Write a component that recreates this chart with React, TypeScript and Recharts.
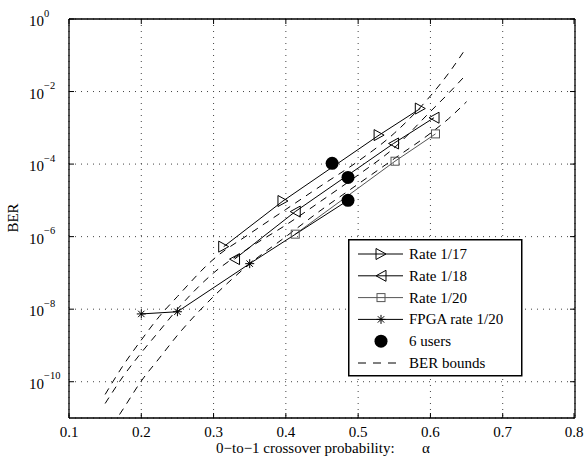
import React from "react";
import { CartesianGrid, ComposedChart, Legend, Line, XAxis, YAxis } from "recharts";

// axis ticks
const xTicks = [0.1, 0.2, 0.3, 0.4, 0.5, 0.6, 0.7, 0.8];
const yTickExps = [0, -2, -4, -6, -8, -10];
const yTicks = yTickExps.map((e) => 10 ** e);

// measured points
const rate17X = [0.314, 0.396, 0.529, 0.586];
const rate17Y = [5.3e-7, 9.6e-6, 6.3e-4, 3.4e-3];
const rate18X = [0.329, 0.413, 0.549, 0.605];
const rate18Y = [2.4e-7, 4.9e-6, 3.7e-4, 1.9e-3];
const rate20X = [0.413, 0.551, 0.607];
const rate20Y = [1.17e-6, 1.2e-4, 6.8e-4];
const fpgaX = [0.2, 0.25, 0.35, 0.486];
const fpgaY = [7.4e-9, 8.5e-9, 1.8e-7, 1.0e-5];
const usersX = [0.464, 0.486, 0.486];
const usersY = [1.05e-4, 4.3e-5, 1.0e-5];

// BER bounds (log10 of BER)
const berX = [0.15, 0.175, 0.2, 0.225, 0.25, 0.3, 0.35, 0.4, 0.45, 0.5, 0.55, 0.6, 0.625, 0.65];
const berALog = [-10.35, -9.55, -8.85, -8.2, -7.65, -6.62, -5.92, -5.25, -4.58, -3.92, -3.15, -2.12, -1.5, -0.78];
const berBLog = [-10.6, -9.85, -9.2, -8.6, -8.0, -7.0, -6.3, -5.68, -5.0, -4.3, -3.55, -2.55, -2.05, -1.52];
const berCLog = [-11.5, -10.75, -9.98, -9.35, -8.72, -7.65, -6.75, -6.0, -5.25, -4.55, -3.85, -3.15, -2.75, -2.28];

const toPts = (xs: number[], ys: number[]) => xs.map((x, i) => ({ x, y: ys[i] }));
const toLogPts = (xs: number[], ls: number[]) => xs.map((x, i) => ({ x, y: 10 ** ls[i] }));

const rate17 = toPts(rate17X, rate17Y);
const rate18 = toPts(rate18X, rate18Y);
const rate20 = toPts(rate20X, rate20Y);
const fpga = toPts(fpgaX, fpgaY);
const users = toPts(usersX, usersY);
const berA = toLogPts(berX, berALog);
const berB = toLogPts(berX, berBLog);
const berC = toLogPts(berX, berCLog);

const FONT = "'Liberation Serif', 'Times New Roman', serif";
const GRAY20 = "#555";

function Marker({ kind, cx, cy, color = "#000" }: { kind: string; cx: number; cy: number; color?: string }) {
  if (kind === "right")
    return <polygon points={`${cx - 5},${cy - 5.5} ${cx - 5},${cy + 5.5} ${cx + 5},${cy}`} fill="none" stroke={color} />;
  if (kind === "left")
    return <polygon points={`${cx + 5},${cy - 5.5} ${cx + 5},${cy + 5.5} ${cx - 5},${cy}`} fill="none" stroke={color} />;
  if (kind === "square")
    return <rect x={cx - 4} y={cy - 4} width={8} height={8} fill="none" stroke={color} />;
  if (kind === "star")
    return (
      <g stroke={color}>
        <line x1={cx - 4.5} x2={cx + 4.5} y1={cy} y2={cy} />
        <line x1={cx} x2={cx} y1={cy - 4.5} y2={cy + 4.5} />
        <line x1={cx - 3.2} x2={cx + 3.2} y1={cy - 3.2} y2={cy + 3.2} />
        <line x1={cx - 3.2} x2={cx + 3.2} y1={cy + 3.2} y2={cy - 3.2} />
      </g>
    );
  if (kind === "dot") return <circle cx={cx} cy={cy} r={6.5} fill="#000" />;
  return null;
}

const dotFn = (kind: string, color?: string) => (p: any) =>
  <Marker key={`${kind}-${p.index}`} kind={kind} cx={p.cx} cy={p.cy} color={color} />;

const XTickBottom = ({ x, y, payload }: any) => (
  <g>
    <line x1={x} x2={x} y1={y} y2={y - 5} stroke="#000" />
    <text x={x} y={y + 19} textAnchor="middle" fontSize={15} fontFamily={FONT} fill="#000">
      {payload.value.toFixed(1)}
    </text>
  </g>
);

const XTickTop = ({ x, y }: any) => <line x1={x} x2={x} y1={y} y2={y + 5} stroke="#000" />;

const YTickLeft = ({ x, y, payload }: any) => {
  const e = Math.round(Math.log10(payload.value));
  return (
    <g>
      <line x1={x} x2={x + 5} y1={y} y2={y} stroke="#000" />
      <text x={x - 40} y={y + 7} fontSize={15} fontFamily={FONT} fill="#000">
        10
        <tspan dy={-9.5} fontSize={10.5}>
          {e === 0 ? "0" : `\u2212${Math.abs(e)}`}
        </tspan>
      </text>
    </g>
  );
};

const YTickRight = ({ x, y }: any) => <line x1={x} x2={x - 5} y1={y} y2={y} stroke="#000" />;

const legendRows = [
  { label: "Rate 1/17", kind: "right", dash: false, color: "#000" },
  { label: "Rate 1/18", kind: "left", dash: false, color: "#000" },
  { label: "Rate 1/20", kind: "square", dash: false, color: GRAY20 },
  { label: "FPGA rate 1/20", kind: "star", dash: false, color: "#000" },
  { label: "6 users", kind: "dot", dash: false, color: "none" },
  { label: "BER bounds", kind: "", dash: true, color: "#000" },
];

const LegendBox = () => (
  <svg width={175} height={138} style={{ display: "block" }}>
    <rect x={0.75} y={0.75} width={173} height={136} fill="#fff" stroke="#000" strokeWidth={1.5} />
    {legendRows.map((r, i) => {
      const cy = 15 + i * 21.8;
      return (
        <g key={r.label}>
          {r.color !== "none" && (
            <line x1={10} x2={55} y1={cy} y2={cy} stroke={r.color} strokeDasharray={r.dash ? "8 7" : undefined} />
          )}
          {r.kind && <Marker kind={r.kind} cx={33} cy={cy} color={r.color} />}
          <text x={61} y={cy + 5} fontSize={15} fontFamily={FONT} fill="#000">
            {r.label}
          </text>
        </g>
      );
    })}
  </svg>
);

export default function App() {
  return (
    <div style={{ position: "fixed", left: 0, top: 0, background: "#fff" }}>
      <ComposedChart width={584} height={458} margin={{ top: 14, right: 4, bottom: 0, left: 29 }}>
        <CartesianGrid stroke="#444" strokeDasharray="1 5" />
        <XAxis
          dataKey="x"
          type="number"
          domain={[0.1, 0.8]}
          ticks={xTicks}
          height={40}
          tickSize={0}
          tickMargin={0}
          tick={<XTickBottom />}
          axisLine={{ stroke: "#000", strokeWidth: 1.3 }}
          allowDataOverflow
        />
        <XAxis
          xAxisId="top"
          orientation="top"
          dataKey="x"
          type="number"
          domain={[0.1, 0.8]}
          ticks={xTicks}
          height={5}
          tickSize={0}
          tickMargin={0}
          tick={<XTickTop />}
          axisLine={{ stroke: "#000", strokeWidth: 1.3 }}
          allowDataOverflow
        />
        <YAxis
          scale="log"
          type="number"
          domain={[1e-11, 1]}
          ticks={yTicks}
          width={40}
          tickSize={0}
          tickMargin={0}
          tick={<YTickLeft />}
          axisLine={{ stroke: "#000", strokeWidth: 1.3 }}
          allowDataOverflow
        />
        <YAxis
          yAxisId="right"
          orientation="right"
          scale="log"
          type="number"
          domain={[1e-11, 1]}
          ticks={yTicks}
          width={5}
          tickSize={0}
          tickMargin={0}
          tick={<YTickRight />}
          axisLine={{ stroke: "#000", strokeWidth: 1.3 }}
          allowDataOverflow
        />
        <Line data={berA} dataKey="y" type="monotone" stroke="#000" strokeWidth={1} strokeDasharray="7 6" dot={false} activeDot={false} isAnimationActive={false} />
        <Line data={berB} dataKey="y" type="monotone" stroke="#000" strokeWidth={1} strokeDasharray="7 6" dot={false} activeDot={false} isAnimationActive={false} />
        <Line data={berC} dataKey="y" type="monotone" stroke="#000" strokeWidth={1} strokeDasharray="7 6" dot={false} activeDot={false} isAnimationActive={false} />
        <Line data={rate17} dataKey="y" type="linear" stroke="#000" strokeWidth={1} dot={dotFn("right")} activeDot={false} isAnimationActive={false} />
        <Line data={rate18} dataKey="y" type="linear" stroke="#000" strokeWidth={1} dot={dotFn("left")} activeDot={false} isAnimationActive={false} />
        <Line data={rate20} dataKey="y" type="linear" stroke={GRAY20} strokeWidth={1} dot={dotFn("square", GRAY20)} activeDot={false} isAnimationActive={false} />
        <Line data={fpga} dataKey="y" type="linear" stroke="#000" strokeWidth={1} dot={dotFn("star")} activeDot={false} isAnimationActive={false} />
        <Line data={users} dataKey="y" type="linear" stroke="none" dot={dotFn("dot")} activeDot={false} isAnimationActive={false} />
        <Legend
          layout="vertical"
          align="center"
          verticalAlign="middle"
          wrapperStyle={{ position: "absolute", left: 348, top: 239, width: 175, height: 138 }}
          content={() => <LegendBox />}
        />
      </ComposedChart>
      <svg width={584} height={458} style={{ position: "absolute", left: 0, top: 0, pointerEvents: "none" }}>
        <text transform="translate(18,218) rotate(-90)" textAnchor="middle" fontSize={15} fontFamily={FONT} fill="#000">
          BER
        </text>
        <text x={216} y={453} fontSize={15} fontFamily={FONT} fill="#000">
          0{"\u2212"}to{"\u2212"}1 crossover probability:
        </text>
        <text x={422} y={453} fontSize={15} fontFamily={FONT} fill="#000">
          α
        </text>
      </svg>
    </div>
  );
}
